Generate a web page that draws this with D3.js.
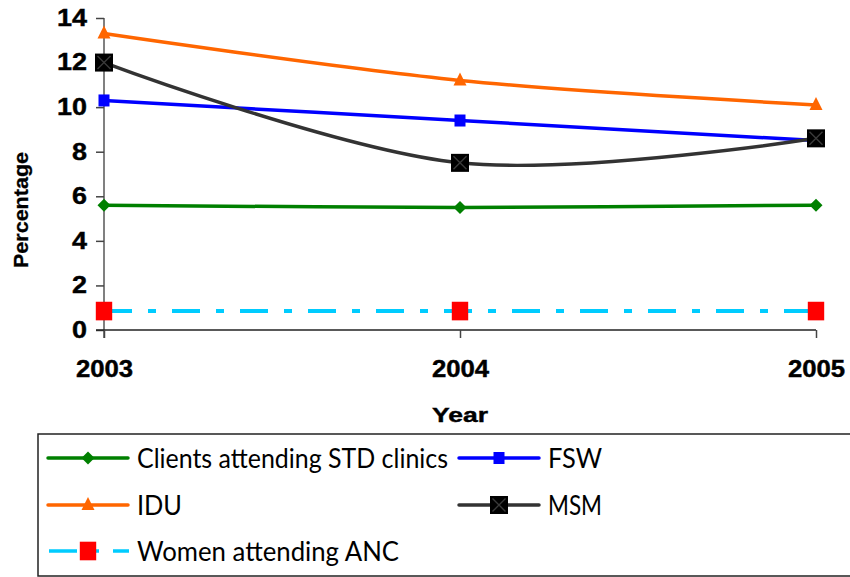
<!DOCTYPE html>
<html>
<head>
<meta charset="utf-8">
<script src="https://cdn.jsdelivr.net/npm/d3@7"></script>
<style>
  html, body { margin: 0; padding: 0; background: #fff; }
  svg { display: block; }
</style>
</head>
<body>
<svg id="chart" width="850" height="577"></svg>
<script>
// Prevalence by group, 2003-2005
const years = [2003, 2004, 2005];
const yTicks = [0, 2, 4, 6, 8, 10, 12, 14];
const clientsSTD = [5.6, 5.5, 5.6];
const fsw = [10.3, 9.4, 8.5];
const idu = [13.3, 11.2, 10.1];
const msm = [12.0, 7.5, 8.6];
const womenANC = [0.85, 0.85, 0.85];
const seriesNames = ["Clients attending STD clinics", "FSW", "IDU", "MSM", "Women attending ANC"];

const series = [
  { name: seriesNames[0], values: clientsSTD, color: "#008000", marker: "diamond", smooth: true },
  { name: seriesNames[1], values: fsw, color: "#0000ff", marker: "square", smooth: true },
  { name: seriesNames[2], values: idu, color: "#ff6600", marker: "triangle", smooth: true },
  { name: seriesNames[3], values: msm, color: "#333333", marker: "xsquare", smooth: true },
  { name: seriesNames[4], values: womenANC, color: "#00ccff", marker: "redsquare", smooth: false, dash: "28,16,8,16" }
];

const boldFont = "'Liberation Sans', Arial, sans-serif";
const legendFont = "Lato, 'Open Sans', sans-serif";

const svg = d3.select("#chart");
const x = d3.scaleLinear().domain([2003, 2005]).range([104, 816]);
const y = d3.scaleLinear().domain([0, 14]).range([330, 18]);

// Bold, slightly wide axis lettering
function styleTickText(sel, perChar) {
  sel.style("font-family", boldFont).style("font-weight", "bold").style("font-size", "23px")
    .attr("fill", "#000").attr("stroke", "#000").attr("stroke-width", 0.4)
    .attr("lengthAdjust", "spacingAndGlyphs")
    .attr("textLength", function () { return this.textContent.length * perChar; });
}

// Axes
const yAxis = svg.append("g").attr("transform", "translate(104,0)")
  .call(d3.axisLeft(y).tickValues(yTicks).tickSize(8).tickPadding(9).tickFormat(d3.format("d")));
yAxis.select(".domain").attr("stroke", "#808080").attr("stroke-width", 2).attr("d", "M0,338V" + y(14));
yAxis.selectAll(".tick line").attr("stroke", "#444").attr("stroke-width", 1.5);
styleTickText(yAxis.selectAll(".tick text"), 15);

const xAxis = svg.append("g").attr("transform", "translate(0,330)")
  .call(d3.axisBottom(x).tickValues(years).tickSize(8).tickPadding(23).tickFormat(d3.format("d")));
xAxis.select(".domain").attr("stroke", "#222").attr("stroke-width", 1.5).attr("d", "M96,0H816");
xAxis.selectAll(".tick line").attr("stroke", "#444").attr("stroke-width", 1.5);
styleTickText(xAxis.selectAll(".tick text"), 14.3);

// Axis titles
svg.append("text").attr("x", 460).attr("y", 422).attr("text-anchor", "middle")
  .style("font-family", boldFont).style("font-weight", "bold").style("font-size", "20px")
  .attr("stroke", "#000").attr("stroke-width", 0.4)
  .attr("textLength", 56).attr("lengthAdjust", "spacingAndGlyphs").text("Year");
svg.append("text").attr("transform", "translate(28,210) rotate(-90)").attr("text-anchor", "middle")
  .style("font-family", boldFont).style("font-weight", "bold").style("font-size", "20px")
  .attr("stroke", "#000").attr("stroke-width", 0.3)
  .attr("textLength", 116).attr("lengthAdjust", "spacingAndGlyphs").text("Percentage");

function drawMarker(g, type, cx, cy) {
  if (type === "diamond") {
    g.append("path").attr("d", `M${cx},${cy-6.5}L${cx+6.5},${cy}L${cx},${cy+6.5}L${cx-6.5},${cy}Z`).attr("fill", "#008000");
  } else if (type === "square") {
    g.append("rect").attr("x", cx-5.5).attr("y", cy-6).attr("width", 11).attr("height", 12).attr("fill", "#0000ff");
  } else if (type === "triangle") {
    g.append("path").attr("d", `M${cx},${cy-8}L${cx+6.5},${cy+5}L${cx-6.5},${cy+5}Z`).attr("fill", "#ff6600");
  } else if (type === "xsquare") {
    g.append("rect").attr("x", cx-9).attr("y", cy-9).attr("width", 18).attr("height", 18).attr("fill", "#000");
    g.append("path").attr("d", `M${cx-6.5},${cy-6.5}L${cx+6.5},${cy+6.5}M${cx+6.5},${cy-6.5}L${cx-6.5},${cy+6.5}`)
      .attr("stroke", "#3a3a3a").attr("stroke-width", 1.4);
  } else if (type === "redsquare") {
    g.append("rect").attr("x", cx-8.2).attr("y", cy-9.3).attr("width", 16.4).attr("height", 18.6).attr("fill", "#ff0000");
  }
}

// Series lines and markers
const plot = svg.append("g");
series.forEach(s => {
  const pts = s.values.map((v, i) => [x(years[i]), y(v)]);
  const line = d3.line().curve(s.smooth ? d3.curveCatmullRom.alpha(0.5) : d3.curveLinear);
  plot.append("path").attr("d", line(pts)).attr("fill", "none").attr("stroke", s.color)
    .attr("stroke-width", s.dash ? 4 : 3.5).attr("stroke-dasharray", s.dash || null).attr("stroke-linecap", "butt");
});
series.forEach(s => {
  const g = plot.append("g");
  s.values.forEach((v, i) => drawMarker(g, s.marker, x(years[i]), y(v)));
});

// Legend
const legend = svg.append("g");
legend.append("rect").attr("x", 38).attr("y", 434).attr("width", 830).attr("height", 142)
  .attr("fill", "#fff").attr("stroke", "#222").attr("stroke-width", 1.5);
const legendPos = [[47, 458], [458, 458], [47, 505], [458, 505], [47, 551]];
const legendTextLen = [311, 54, 45, 54, 262];
series.forEach((s, i) => {
  const [lx, ly] = legendPos[i];
  const g = legend.append("g");
  if (s.dash) {
    g.append("path").attr("d", `M${lx+2},${ly}H${lx+82}`).attr("stroke", s.color).attr("stroke-width", 3.5)
      .attr("stroke-dasharray", "28,14,8,14");
  } else {
    g.append("path").attr("d", `M${lx+1},${ly}H${lx+81}`).attr("stroke", s.color).attr("stroke-width", 3.5)
      .attr("stroke-linecap", "round");
  }
  drawMarker(g, s.marker, lx + 41, ly);
  g.append("text").attr("x", lx + 90).attr("y", ly + 10)
    .style("font-family", legendFont).style("font-size", "26px")
    .attr("textLength", legendTextLen[i]).attr("lengthAdjust", "spacingAndGlyphs")
    .attr("fill", "#000").text(s.name);
});
</script>
</body>
</html>
